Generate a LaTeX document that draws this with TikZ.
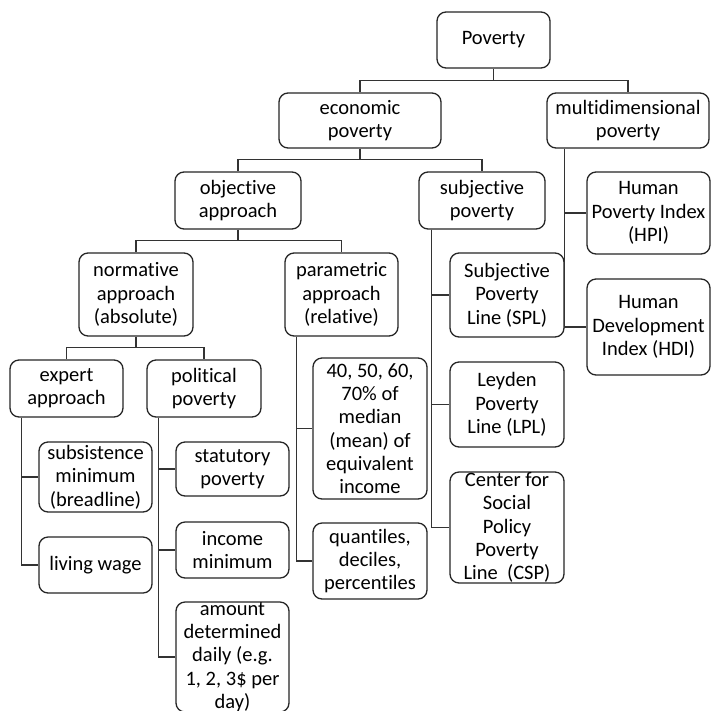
\documentclass[tikz,border=0pt]{standalone}
\usepackage{fontspec}
\setmainfont{Carlito}[Ligatures={NoCommon}]
\usetikzlibrary{calc}
\tikzset{
  box/.style={draw=black!85, line width=1.3pt, rounded corners=9pt, inner sep=0pt, fill=none},
  txt/.style={align=center, inner sep=0pt, font=\fontsize{20.5}{23.3}\selectfont, text=black},
  conn/.style={draw=black!80, line width=1.3pt}
}
\newcommand\bx[6]{%
  \node[box, minimum width={#4-#2}, minimum height={#5-#3}] (#1) at ({(#2+#4)/2},{(#3+#5)/2}) {};
  \node[txt] (#1-t) at (#1.center) {#6};
}
\begin{document}
\begin{tikzpicture}[x=1pt,y=-1pt]
\useasboundingbox (0,0) rectangle (711,710);
\fill[white] (0,0) rectangle (711,710);
\bx{pov}{437}{12}{550}{68}{Poverty}
\bx{econ}{279}{93}{441}{148}{economic\\poverty}
\bx{multi}{547}{93}{709}{148}{multidimensional\\poverty}
\bx{obj}{175}{172}{301}{229}{objective\\approach}
\bx{subj}{419}{172}{545}{229}{subjective\\poverty}
\bx{hpi}{587}{172}{710}{254}{Human\\Poverty Index\\(HPI)}
\bx{hdi}{587}{279}{710}{375}{Human\\Development\\Index (HDI)}
\bx{norm}{79}{253}{193}{336}{normative\\approach\\(absolute)}
\bx{param}{285}{253}{398}{336}{parametric\\approach\\(relative)}
\bx{spl}{450}{253}{564}{337}{Subjective\\Poverty\\Line (SPL)}
\bx{lpl}{450}{362}{564}{447}{Leyden\\Poverty\\Line (LPL)}
\bx{csp}{450}{472}{564}{583}{Center for\\Social\\Policy\\Poverty\\Line\ \ (CSP)}
\bx{expert}{10}{360}{123}{417}{expert\\approach}
\bx{polit}{147}{360}{261}{417}{political\\poverty}
\bx{pct}{313}{358}{427}{499}{40, 50, 60,\\70\% of\\median\\(mean) of\\equivalent\\income}
\bx{quant}{313}{523}{427}{599}{quantiles,\\deciles,\\percentiles}
\bx{subs}{39}{442}{152}{512}{subsistence\\minimum\\(breadline)}
\bx{living}{39}{537}{152}{593}{living wage}
\bx{stat}{176}{442}{289}{496}{statutory\\poverty}
\bx{income}{176}{522}{289}{578}{income\\minimum}
\bx{amount}{176}{602}{289}{712}{amount\\determined\\daily (e.g.\\1, 2, 3\$ per\\day)}

% tree connectors
\draw[conn] (pov.south) -- ++(0,12) -| (econ.north);
\draw[conn] (pov.south) ++(0,12) -| (multi.north);
\draw[conn] (econ.south) -- ++(0,11) -| (obj.north);
\draw[conn] (econ.south) ++(0,11) -| (subj.north);
\draw[conn] (obj.south) -- ++(0,11) -| (norm.north);
\draw[conn] (obj.south) ++(0,11) -| (param.north);
\draw[conn] (norm.south) -- ++(0,11) -| (expert.north);
\draw[conn] (norm.south) ++(0,11) -| (polit.north);

% trunks
\coordinate (mtr) at ($(multi.south west)+(18,0)$);
\draw[conn] (mtr) |- (hpi.west);
\draw[conn] (mtr) |- (hdi.west);
\coordinate (str) at ($(subj.south west)+(13,0)$);
\draw[conn] (str) |- (spl.west);
\draw[conn] (str) |- (lpl.west);
\draw[conn] (str) |- (csp.west);
\coordinate (ptr) at ($(param.south west)+(12,0)$);
\draw[conn] (ptr) |- (pct.west);
\draw[conn] (ptr) |- (quant.west);
\coordinate (etr) at ($(expert.south west)+(12,0)$);
\draw[conn] (etr) |- (subs.west);
\draw[conn] (etr) |- (living.west);
\coordinate (potr) at ($(polit.south west)+(12,0)$);
\draw[conn] (potr) |- (stat.west);
\draw[conn] (potr) |- (income.west);
\draw[conn] (potr) |- (amount.west);
\end{tikzpicture}
\end{document}
